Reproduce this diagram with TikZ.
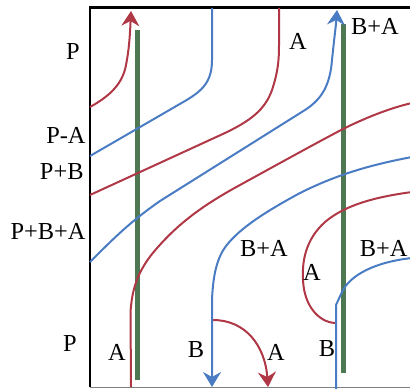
\documentclass[tikz,border=0pt]{standalone}
\usepackage{fontspec}
\setmainfont{Liberation Serif}
\usetikzlibrary{arrows.meta}
\definecolor{cred}{RGB}{176,56,70}
\definecolor{cblue}{RGB}{74,124,196}
\definecolor{cgreen}{RGB}{78,120,82}
\tikzset{
  redline/.style={draw=cred,line width=1pt},
  blueline/.style={draw=cblue,line width=1pt},
  greenbar/.style={draw=cgreen,line width=2.5pt},
  tipr/.style={-{Stealth[length=7.5pt,width=9pt,inset=2.5pt]}},
  lbl/.style={inner sep=0pt,font=\fontsize{12.2}{14}\selectfont}
}
\begin{document}
\begin{tikzpicture}[x=0.5pt,y=-0.5pt]
\useasboundingbox (0,0) rectangle (410,389);
% frame
\draw[black,line width=1.2pt] (90,387) -- (90,7.5) -- (410,7.5);
\draw[gray,line width=0.8pt] (90,387.5) -- (410,387.5);
% green bars
\draw[greenbar] (137,30) -- (137,380);
\draw[greenbar] (343.5,24) -- (343.5,373);
% red curves
\draw[redline,tipr] (90,107) .. controls (112,95) and (123,82) .. (126,65) .. controls (129,50) and (130,35) .. (131,11);
\draw[redline] (90,195) -- (225,133) .. controls (250,121) and (265,110) .. (272,90) .. controls (278,72) and (279,60) .. (279,45) -- (279,8);
\draw[redline] (131,387) -- (130.5,312) .. controls (132,290) and (137,270) .. (158,247) .. controls (180,222) and (205,204) .. (240,185) .. controls (280,163) and (320,141) .. (343,129) .. controls (365,118) and (390,108) .. (412,103);
\draw[redline] (412,192) .. controls (375,197) and (345,205) .. (325,222) .. controls (305,240) and (302,262) .. (303,280) .. controls (304,305) and (318,322) .. (335,323);
\draw[redline,tipr] (213,320) .. controls (245,320) and (265,345) .. (268,387);
% blue curves
\draw[blueline] (90,156) -- (185,101) .. controls (202,91) and (212,82) .. (212,60) -- (212,8);
\draw[blueline,tipr] (90,262) .. controls (115,237) and (130,222) .. (160,201) -- (305,110) .. controls (322,99) and (330,85) .. (332,60) .. controls (334,40) and (336,25) .. (337,10);
\draw[blueline,tipr] (412,157) .. controls (375,164) and (340,173) .. (300,193) .. controls (265,212) and (240,228) .. (226,246) .. controls (217,258) and (213,275) .. (212,300) -- (212,387);
\draw[blueline] (336,389) -- (336,305) -- (342,292) .. controls (350,275) and (375,262) .. (412,258);
% labels
\node[lbl] (lp1) at (73,52) {P};
\node[lbl,anchor=east] (lpa) at (86,135) {P-A};
\node[lbl,anchor=east] (lpb) at (84,172) {P+B};
\node[lbl,anchor=east] (lpba) at (86,231) {P+B+A};
\node[lbl] (lp2) at (70,344) {P};
\node[lbl] (la1) at (117,352) {A};
\node[lbl] (lb1) at (196,350) {B};
\node[lbl] (la2) at (276,352) {A};
\node[lbl] (lb2) at (327,349) {B};
\node[lbl] (lba1) at (264,248) {B+A};
\node[lbl] (la3) at (312,272) {A};
\node[lbl,anchor=east] (lba2) at (408,248) {B+A};
\node[lbl] (la4) at (298,41) {A};
\node[lbl] (lba3) at (375,26) {B+A};
\end{tikzpicture}
\end{document}
